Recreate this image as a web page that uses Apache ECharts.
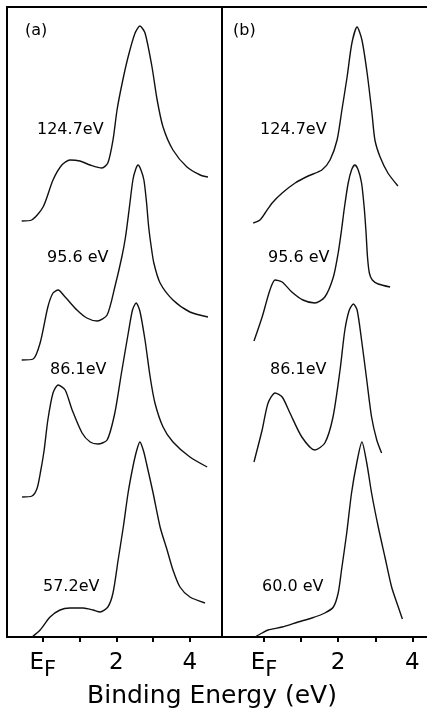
<!DOCTYPE html>
<html>
<head>
<meta charset="utf-8">
<script src="https://cdn.jsdelivr.net/npm/echarts@6/dist/echarts.min.js"></script>
<style>
html,body{margin:0;padding:0;background:#fff;}
#chart{width:427px;height:713px;}
</style>
</head>
<body>
<div id="chart"></div>
<script>
// Binding energy (eV) vs intensity (arb. units, curves offset vertically)
const a1 = [[-0.57,416],[-0.30,417],[0.01,430],[0.28,457],[0.52,472],[0.74,477],[1.01,476],[1.29,472],[1.61,469],[1.77,474],[1.91,497],[2.02,527],[2.16,554],[2.32,580],[2.51,604],[2.64,611],[2.78,604],[2.97,570],[3.11,537],[3.27,510],[3.54,487],[3.92,470],[4.28,462],[4.49,460]];
const a2 = [[-0.57,277],[-0.26,278],[-0.07,294],[0.14,330],[0.28,344],[0.42,347],[0.61,340],[0.93,327],[1.20,319],[1.48,316],[1.75,322],[1.96,350],[2.15,380],[2.25,400],[2.35,428],[2.45,457],[2.52,467],[2.59,472],[2.67,467],[2.75,457],[2.82,435],[2.88,410],[2.95,390],[3.02,374],[3.19,354],[3.54,337],[4.00,325],[4.49,320]];
const a3 = [[-0.56,140],[-0.29,141],[-0.15,149],[-0.05,167],[0.04,187],[0.14,217],[0.28,244],[0.42,252],[0.61,247],[0.80,227],[1.07,204],[1.29,195],[1.50,193],[1.75,197],[1.96,224],[2.14,264],[2.33,305],[2.44,327],[2.54,334],[2.64,326],[2.78,297],[2.92,260],[3.05,234],[3.27,210],[3.54,195],[4.00,180],[4.47,170]];
const a4 = [[-0.29,0],[-0.07,7],[0.20,20],[0.47,27],[0.74,29],[1.10,29],[1.37,27],[1.56,25],[1.77,30],[1.91,44],[2.05,77],[2.19,110],[2.32,144],[2.45,170],[2.55,186],[2.64,195],[2.74,186],[2.83,172],[3.00,144],[3.19,110],[3.38,87],[3.54,67],[3.73,50],[4.00,40],[4.41,34]];

const b1 = [[-0.29,414],[-0.11,417],[0.03,424],[0.22,434],[0.49,444],[0.84,454],[1.19,461],[1.56,467],[1.78,477],[1.97,497],[2.10,527],[2.24,560],[2.37,594],[2.51,610],[2.64,597],[2.78,564],[2.91,524],[2.99,497],[3.13,480],[3.34,464],[3.61,451]];
const b2 = [[-0.27,296],[-0.05,320],[0.16,347],[0.30,357],[0.49,355],[0.75,345],[1.05,337],[1.37,334],[1.64,340],[1.87,360],[2.00,384],[2.09,407],[2.17,430],[2.27,454],[2.36,467],[2.45,472],[2.54,467],[2.63,454],[2.70,430],[2.75,405],[2.79,380],[2.84,364],[2.92,357],[3.08,353],[3.40,350]];
const b3 = [[-0.27,175],[-0.05,207],[0.11,234],[0.30,244],[0.49,240],[0.70,224],[1.02,200],[1.37,187],[1.64,194],[1.86,220],[2.05,267],[2.18,307],[2.30,327],[2.41,333],[2.51,327],[2.63,297],[2.77,257],[2.90,220],[3.04,197],[3.17,184]];
const b4 = [[-0.24,0],[-0.05,4],[0.11,7],[0.49,10],[0.92,15],[1.29,19],[1.64,24],[1.87,30],[2.00,44],[2.09,67],[2.23,104],[2.36,144],[2.50,174],[2.64,195],[2.77,174],[2.90,144],[3.08,110],[3.26,80],[3.44,50],[3.62,30],[3.73,18]];

const tickValues = [0, 1, 2, 3, 4];
const labelValues = [0, 2, 4];
const panelNames = ['(a)', '(b)'];
const curveLabelsA = ['124.7eV', '95.6 eV', '86.1eV', '57.2eV'];
const curveLabelsB = ['124.7eV', '95.6 eV', '86.1eV', '60.0 eV'];
const axisTitle = 'Binding Energy (eV)';

const FONT = 'DejaVu Sans';
const chart = echarts.init(document.getElementById('chart'), null, {renderer: 'canvas'});

const rangeA = [-0.970, 4.872];
const rangeB = [-1.132, 4.394];

function xAxisFor(gridIndex, range) {
  return {
    type: 'value', gridIndex: gridIndex, min: range[0], max: range[1],
    axisLine: {show: true, onZero: false, lineStyle: {color: '#000', width: 2}},
    splitLine: {show: false},
    axisTick: {show: true, inside: false, length: 5, customValues: tickValues, lineStyle: {color: '#000', width: 2}},
    axisLabel: {
      show: true, customValues: labelValues, margin: 15, color: '#000',
      fontFamily: FONT, fontSize: 23, verticalAlign: 'top',
      formatter: function (v) { return v === 0 ? '{e|E}{f|F}' : '{n|' + v + '}'; },
      rich: {
        e: {fontFamily: FONT, fontSize: 23, lineHeight: 23, verticalAlign: 'top', color: '#000'},
        f: {fontFamily: FONT, fontSize: 21, lineHeight: 29, verticalAlign: 'bottom', color: '#000'},
        n: {fontFamily: FONT, fontSize: 23, lineHeight: 23, verticalAlign: 'top', color: '#000'}
      }
    }
  };
}
function topLineAxis(gridIndex, range) {
  return {
    type: 'value', gridIndex: gridIndex, position: 'top', min: range[0], max: range[1],
    axisLine: {show: true, onZero: false, lineStyle: {color: '#000', width: 2}},
    axisTick: {show: false}, axisLabel: {show: false}, splitLine: {show: false}
  };
}
function yAxisFor(gridIndex, showLine) {
  return {
    type: 'value', gridIndex: gridIndex, min: 0, max: 630,
    axisLine: {show: showLine, onZero: false, lineStyle: {color: '#000', width: 2}},
    axisTick: {show: false}, axisLabel: {show: false}, splitLine: {show: false}
  };
}
function lineSeries(data, idx) {
  return {
    type: 'line', xAxisIndex: idx, yAxisIndex: idx, data: data,
    showSymbol: false, symbol: 'none', smooth: 0.25, silent: true,
    lineStyle: {color: '#111', width: 1.4}
  };
}

const labelLeftA = [37, 47, 50, 43];
const labelLeftB = [260, 268, 270, 262];
const labelTop = [130, 258, 370, 587];

const graphics = [];
function addText(t, x, y, size, align) {
  graphics.push({type: 'text', x: x, y: y, silent: true, style: {text: t, fill: '#000', font: size + 'px "' + FONT + '"', textAlign: align, textVerticalAlign: 'middle'}});
}
curveLabelsA.forEach(function (t, i) { addText(t, labelLeftA[i], labelTop[i], 16, 'left'); });
curveLabelsB.forEach(function (t, i) { addText(t, labelLeftB[i], labelTop[i], 16, 'left'); });
addText(panelNames[0], 25, 31, 16, 'left');
addText(panelNames[1], 233, 31, 16, 'left');
addText(axisTitle, 212, 696, 25, 'center');

chart.setOption({
  animation: false,
  backgroundColor: '#fff',
  grid: [
    {left: 7, right: 205, top: 7, bottom: 76, show: true, borderColor: '#000', borderWidth: 2, backgroundColor: 'transparent'},
    {left: 222, right: 0, top: 7, bottom: 76, show: false}
  ],
  xAxis: [xAxisFor(0, rangeA), xAxisFor(1, rangeB), topLineAxis(1, rangeB)],
  yAxis: [yAxisFor(0, false), yAxisFor(1, true)],
  series: [
    lineSeries(a1, 0), lineSeries(a2, 0), lineSeries(a3, 0), lineSeries(a4, 0),
    lineSeries(b1, 1), lineSeries(b2, 1), lineSeries(b3, 1), lineSeries(b4, 1)
  ],
  graphic: graphics
});
</script>
</body>
</html>
